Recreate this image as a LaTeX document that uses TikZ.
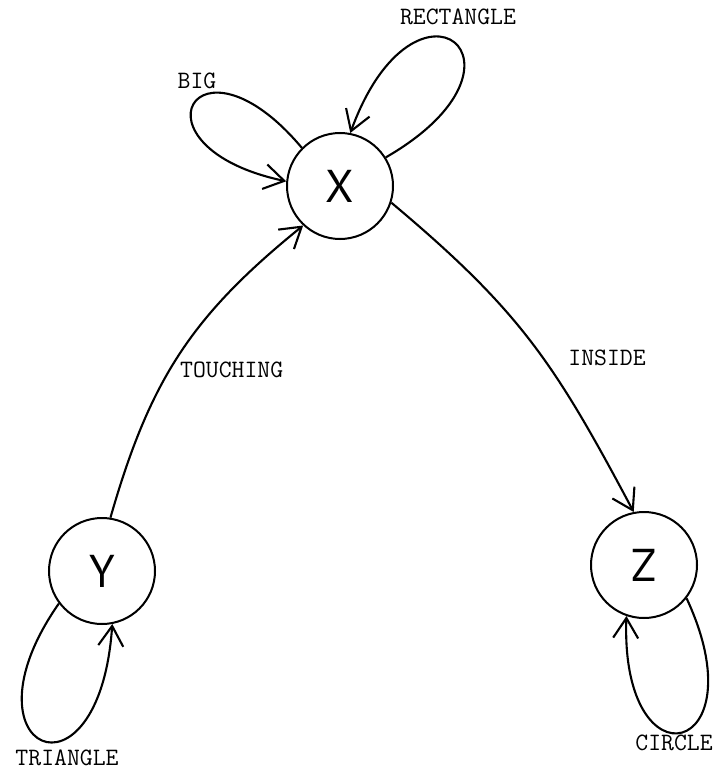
\documentclass[tikz,border=0pt]{standalone}
\usepackage{fontspec}
\newfontfamily\nodefont{PT Sans}
\usetikzlibrary{arrows.meta}
\begin{document}
\begin{tikzpicture}[x=1pt,y=1pt,
  state/.style={circle, draw, line width=2pt, minimum size=106pt, inner sep=0pt, font=\nodefont\fontsize{46}{46}\selectfont},
  edge/.style={line width=2.1pt, -{Straight Barb[length=20pt,width=25pt,line width=2.1pt]}},
  lab/.style={font=\ttfamily\fontsize{25}{25}\selectfont, inner sep=0pt}]
\useasboundingbox (0,0) rectangle (715,-770);
\node[state] (X) at (340,-186) {X};
\node[state] (Y) at (102,-571) {Y};
\node[state] (Z) at (644,-565) {Z};
% edges
\draw[edge] (Y.81) to[out=74,in=219,looseness=1.05] (X.227);
\draw[edge] (X.-18) to[out=-40,in=118,looseness=1.1] (Z.101);
% loops
\draw[edge] (X.135) .. controls +(130:165) and +(168:165) .. (X.175);
\draw[edge] (X.32) .. controls +(30:190) and +(70:190) .. (X.79);
\draw[edge] (Y.217) .. controls +(235:180) and +(266:190) .. (Y.281);
\draw[edge] (Z.322) .. controls +(295:175) and +(268:175) .. (Z.251);
% labels
\node[lab] (lbig) at (197,-81) {BIG};
\node[lab] (lrect) at (458,-17) {RECTANGLE};
\node[lab, anchor=west] (ltouch) at (180,-370) {TOUCHING};
\node[lab] (linside) at (607,-358) {INSIDE};
\node[lab] (ltri) at (67,-758) {TRIANGLE};
\node[lab] (lcirc) at (674,-743) {CIRCLE};
\end{tikzpicture}
\end{document}
